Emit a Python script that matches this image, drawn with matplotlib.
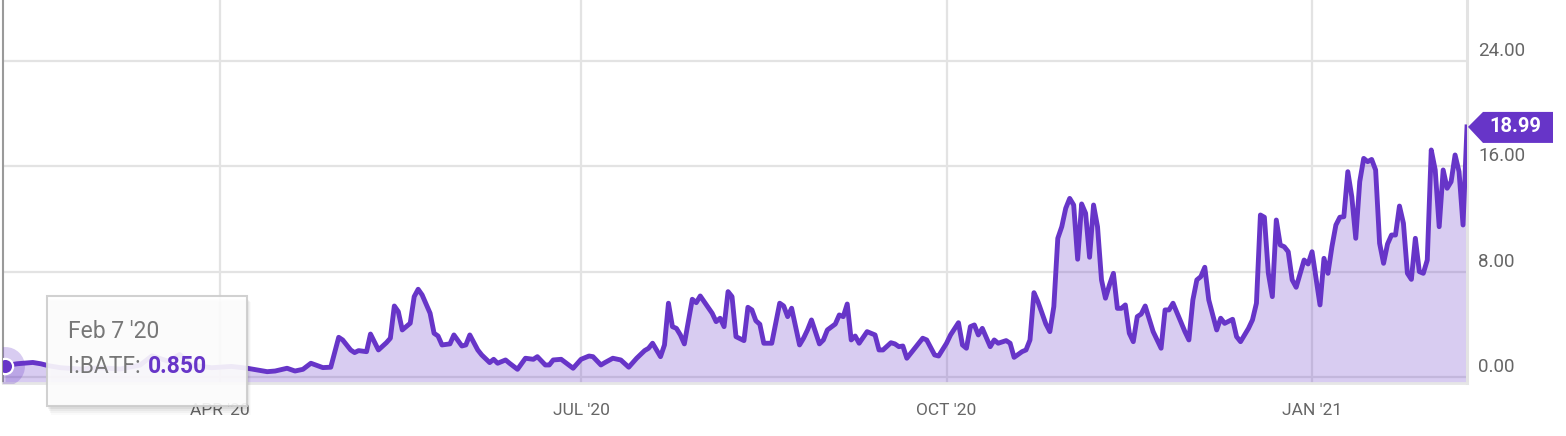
import matplotlib
matplotlib.use('Agg')
import matplotlib.pyplot as plt
import matplotlib.patches as patches
import matplotlib.transforms as mtransforms
import matplotlib.dates as mdates
import pandas as pd
from matplotlib import rcParams

rcParams['font.family'] = ['Roboto', 'DejaVu Sans']

PURPLE = '#6735c8'
GRID = '#e3e3e3'
TXT = '#666666'

# I:BATF, days since Feb 7 '20 and value
START = '2020-02-07'
day_offsets = [
    0, 3, 7, 9, 11, 14, 19, 24, 29, 34,
    37, 41, 44, 47, 52, 57, 61, 66, 68, 71,
    73, 75, 77, 80, 82, 84, 85, 87, 88, 89,
    91, 92, 94, 96, 97, 98, 99, 100, 102, 103,
    104, 105, 107, 108, 109, 110, 112, 113, 115, 116,
    117, 119, 120, 122, 123, 124, 126, 127, 129, 131,
    133, 134, 136, 137, 138, 140, 143, 145, 147, 148,
    150, 151, 153, 155, 157, 159, 161, 162, 163, 165,
    166, 167, 168, 169, 170, 171, 173, 174, 175, 178,
    179, 180, 181, 182, 183, 184, 186, 187, 188, 189,
    190, 191, 193, 195, 196, 197, 198, 200, 201, 202,
    203, 205, 206, 207, 209, 210, 211, 212, 213, 214,
    215, 217, 219, 220, 221, 223, 224, 225, 226, 227,
    229, 231, 232, 234, 235, 237, 238, 240, 241, 242,
    243, 244, 245, 246, 248, 249, 250, 252, 253, 254,
    256, 257, 258, 259, 260, 262, 263, 264, 265, 266,
    267, 268, 269, 270, 271, 272, 273, 274, 275, 276,
    277, 278, 279, 280, 281, 282, 283, 284, 285, 286,
    287, 289, 291, 292, 293, 294, 297, 298, 299, 300,
    301, 302, 303, 305, 306, 307, 309, 310, 311, 313,
    314, 315, 316, 317, 318, 319, 320, 321, 322, 323,
    324, 325, 327, 328, 329, 331, 332, 333, 334, 335,
    336, 337, 338, 339, 340, 341, 342, 343, 344, 345,
    346, 347, 348, 349, 350, 351, 352, 353, 354, 355,
    356, 357, 358, 359, 360, 361, 362, 363, 364, 365,
    366, 367, 368,
]
values = [
    0.85, 1.0, 1.1, 1.0, 0.85, 0.7, 0.6, 0.7, 0.6, 0.9,
    1.6, 1.2, 1.7, 0.9, 0.7, 0.8, 0.66, 0.40, 0.45, 0.66,
    0.45, 0.58, 1.04, 0.71, 0.74, 3.01, 2.81, 2.05, 1.85, 2.0,
    1.92, 3.26, 2.05, 2.6, 2.94, 5.39, 4.96, 3.57, 4.08, 6.1,
    6.66, 6.23, 4.84, 3.32, 3.11, 2.43, 2.51, 3.19, 2.35, 2.43,
    3.19, 2.05, 1.67, 1.09, 1.34, 1.04, 1.29, 1.04, 0.58, 1.42,
    1.34, 1.54, 0.91, 0.91, 1.29, 1.34, 0.66, 1.34, 1.59, 1.54,
    0.91, 1.09, 1.42, 1.29, 0.74, 1.42, 2.0, 2.18, 2.56, 1.54,
    2.43, 5.6, 3.82, 3.69, 3.19, 2.51, 5.9, 5.64, 6.15, 4.84,
    4.2, 4.46, 3.82, 6.48, 6.1, 3.06, 2.76, 5.29, 5.09, 4.27,
    4.0, 2.56, 2.56, 5.6, 5.39, 4.58, 5.22, 2.43, 2.94, 3.57,
    4.33, 2.51, 2.81, 3.57, 4.02, 4.71, 4.58, 5.54, 2.81, 3.11,
    2.56, 3.44, 3.19, 2.05, 2.05, 2.6, 2.51, 2.3, 2.35, 1.42,
    2.18, 2.94, 2.81, 1.67, 1.59, 2.56, 3.19, 4.12, 2.43, 2.18,
    3.82, 3.95, 3.19, 3.69, 2.3, 2.81, 2.56, 2.76, 2.56, 1.49,
    1.92, 2.05, 2.81, 6.4, 5.72, 4.02, 3.44, 5.34, 10.53, 11.41,
    12.81, 13.56, 13.06, 8.94, 13.14, 12.43, 9.09, 13.06, 11.41, 7.37,
    5.98, 6.99, 7.87, 5.21, 5.21, 5.47, 3.32, 2.68, 4.58, 4.78,
    5.39, 3.44, 2.18, 5.09, 5.09, 5.6, 3.44, 2.81, 5.85, 7.37,
    7.62, 8.33, 5.85, 3.57, 4.46, 4.07, 4.38, 3.06, 2.68, 3.69,
    4.33, 5.6, 12.3, 12.13, 7.87, 6.1, 11.92, 10.02, 9.89, 9.51,
    7.37, 6.81, 8.88, 8.58, 9.51, 5.47, 9.01, 7.87, 9.89, 11.54,
    12.13, 12.17, 15.59, 13.69, 10.53, 14.83, 16.6, 16.35, 16.52, 15.72,
    10.15, 8.63, 10.1, 10.78, 10.78, 12.98, 11.67, 7.87, 7.41, 10.53,
    8.0, 7.87, 8.88, 17.24, 15.72, 11.41, 15.72, 14.33, 14.83, 16.86,
    15.59, 11.54, 18.99,
]
assert len(day_offsets) == len(values)

tick_dates = ['2020-04-01', '2020-07-01', '2020-10-01', '2021-01-01']
tick_labels = ["APR '20", "JUL '20", "OCT '20", "JAN '21"]
y_ticks = [0, 8, 16, 24]
series_name = 'I:BATF'
tooltip_date = "Feb 7 '20"

dates = pd.Timestamp(START) + pd.to_timedelta(day_offsets, unit='D')

W, H = 1566, 436
fig = plt.figure(figsize=(W / 100, H / 100), dpi=100, facecolor='white')
ax = fig.add_axes([3 / W, 53 / H, 1464 / W, 383 / H])
ax.set_facecolor('white')

ymin, ymax = -0.46, 28.63
ax.set_ylim(ymin, ymax)
ax.set_xlim(dates[0] - pd.Timedelta(hours=12), dates[-1])

for y in y_ticks:
    ax.axhline(y, color=GRID, lw=1.6, zorder=0)
tick_ts = pd.to_datetime(tick_dates)
for t in tick_ts:
    ax.axvline(t, color=GRID, lw=1.6, zorder=0)

ax.fill_between(dates, values, ymin, color=PURPLE, alpha=0.25, lw=0, zorder=1)
ax.plot(dates, values, color=PURPLE, lw=3.5, solid_joinstyle='round', zorder=3)

# hover marker at first point
ax.plot(dates[0], values[0], 'o', ms=28, color=PURPLE, alpha=0.25, mew=0, zorder=4)
ax.plot(dates[0], values[0], 'o', ms=11, mfc=PURPLE, mec='white', mew=1.6, zorder=5)

ax.spines['top'].set_visible(False)
ax.spines['left'].set_color('#9a9a9a')
ax.spines['left'].set_linewidth(1.5)
ax.spines['right'].set_color('#e3e3e3')
ax.spines['right'].set_linewidth(2.2)
ax.spines['bottom'].set_color('#e6e6e6')
ax.spines['bottom'].set_linewidth(2)

ax.set_yticks([])
ax.set_xticks(tick_ts)
ax.set_xticklabels(tick_labels, color=TXT, fontsize=12.5)
ax.tick_params(axis='x', length=0, pad=14.5)

for y in y_ticks:
    ax.annotate(f'{y:.2f}', xy=(1, y), xycoords=('axes fraction', 'data'),
                xytext=(11, 10), textcoords='offset pixels',
                ha='left', va='center', color=TXT, fontsize=13.5, annotation_clip=False)

# last value flag
x_last = mdates.date2num(dates[-1].to_pydatetime())
anchor = mtransforms.ScaledTranslation(x_last, values[-1], ax.transData)
flag = patches.Polygon([(1, 0), (16, 15), (86, 15), (86, -16), (16, -16)], closed=True,
                       facecolor=PURPLE, edgecolor='none',
                       transform=mtransforms.IdentityTransform() + anchor, clip_on=False, zorder=6)
ax.add_patch(flag)
ax.annotate(f'{values[-1]:.2f}', xy=(dates[-1], values[-1]), xytext=(48, 0),
            textcoords='offset pixels', ha='center', va='center', color='white',
            fontsize=14.5, fontweight='bold', annotation_clip=False, zorder=7)

# tooltip overlay
ov = fig.add_axes([0, 0, 1, 1])
ov.set_xlim(0, W)
ov.set_ylim(H, 0)
ov.axis('off')
for i, a in enumerate([0.05, 0.04, 0.03, 0.02]):
    ov.add_patch(patches.Rectangle((47 + 1 + i, 296 + 3 + i), 200, 110 + i,
                                   facecolor='#000000', alpha=a, lw=0))
ov.add_patch(patches.Rectangle((47, 296), 200, 110, facecolor='white', alpha=0.9,
                               edgecolor='#cccccc', lw=1.5))
ov.text(68, 331, tooltip_date, color='#777777', fontsize=16.5, ha='left', va='center')
t1 = ov.text(68, 366, f'{series_name}:', color='#777777', fontsize=16.5, ha='left', va='center')
ov.annotate(f'{values[0]:.3f}', xy=(1, 0.5), xycoords=t1, xytext=(7, 0),
            textcoords='offset pixels', ha='left', va='center', color=PURPLE,
            fontsize=16.5, fontweight='bold')

fig.savefig('out.png', dpi=100, facecolor='white')
plt.close(fig)
